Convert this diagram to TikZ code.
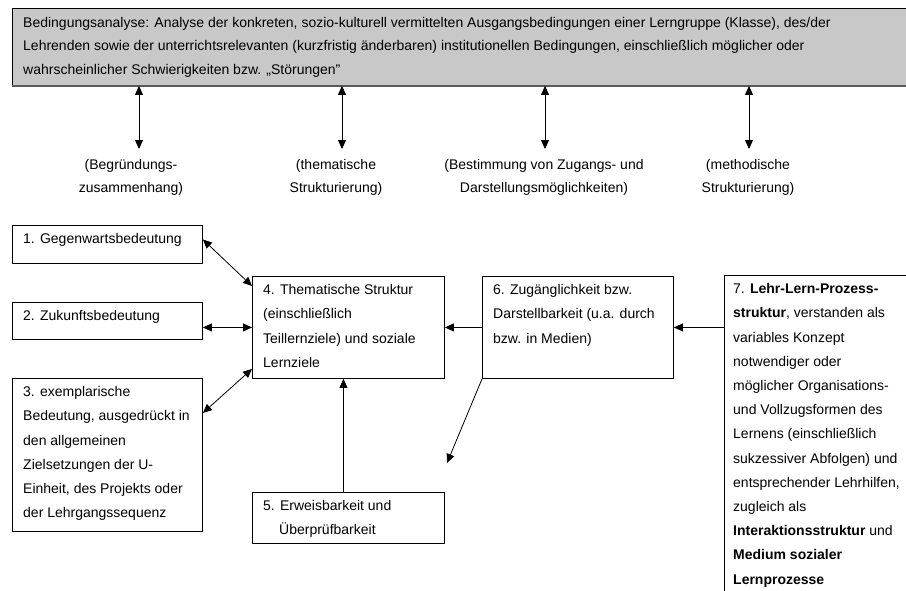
\documentclass[tikz,border=0pt]{standalone}
\usepackage{fontspec}
\setmainfont{Liberation Sans}
\usetikzlibrary{arrows.meta}
\definecolor{condfill}{RGB}{200,200,200}
\definecolor{condedge}{RGB}{90,90,90}
\newcommand\firstline{\rule{0pt}{11pt}}
\tikzset{
  x=1pt, y=-1pt,
  boxfont/.style={font=\fontsize{14pt}{24.2pt}\selectfont},
  plainbox/.style={draw=black, line width=0.9pt, anchor=north west, inner sep=0pt},
  boxtext/.style={boxfont, anchor=north west, inner sep=0pt, align=left},
  labeltext/.style={font=\fontsize{14pt}{23pt}\selectfont, anchor=north, inner sep=0pt, align=center},
  conn/.style={line width=0.8pt, -{Triangle[length=9pt,width=8pt]}},
  dconn/.style={line width=0.8pt, {Triangle[length=9pt,width=8pt]}-{Triangle[length=9pt,width=8pt]}}
}
\begin{document}
\begin{tikzpicture}
\clip (0,0) rectangle (906,590);
\fill[white] (0,0) rectangle (906,590);

% conditions analysis band along the top
\node[draw=black, fill=condfill, line width=0.9pt, anchor=north west, inner sep=0pt,
      minimum width=910pt, minimum height=77pt] (cond) at (12,8) {};
\draw[condedge, line width=1.2pt] (cond.south west) -- (cond.south east);
\node[boxtext, font=\fontsize{14pt}{23.2pt}\selectfont] (tcond) at (23,16.5)
  {\firstline Bedingungsanalyse: Analyse der konkreten, sozio-kulturell vermittelten Ausgangsbedingungen einer Lerngruppe (Klasse), des/der\\
   Lehrenden sowie der unterrichtsrelevanten (kurzfristig änderbaren) institutionellen Bedingungen, einschließlich möglicher oder\\
   wahrscheinlicher Schwierigkeiten bzw. „Störungen"};

% arrow ends and their labels
\coordinate (a1) at (139,149);
\coordinate (a2) at (342,149);
\coordinate (a3) at (545,149);
\coordinate (a4) at (749,149);
\draw[dconn] (cond.south -| a1) -- (a1);
\draw[dconn] (cond.south -| a2) -- (a2);
\draw[dconn] (cond.south -| a3) -- (a3);
\draw[dconn] (cond.south -| a4) -- (a4);
\node[labeltext] (l1) at (131,158.5) {\firstline(Begründungs-\\zusammenhang)};
\node[labeltext] (l2) at (336,158.5) {\firstline(thematische\\Strukturierung)};
\node[labeltext] (l3) at (544,158.5) {\firstline(Bestimmung von Zugangs- und\\Darstellungsmöglichkeiten)};
\node[labeltext] (l4) at (748,158.5) {\firstline(methodische\\Strukturierung)};

% boxes
\node[plainbox, minimum width=190pt, minimum height=38pt]  (b1) at (12,225) {};
\node[plainbox, minimum width=190pt, minimum height=37pt]  (b2) at (12,302) {};
\node[plainbox, minimum width=190pt, minimum height=153pt] (b3) at (12,378) {};
\node[plainbox, minimum width=192pt, minimum height=102pt] (b4) at (252,276) {};
\node[plainbox, minimum width=192pt, minimum height=51pt]  (b5) at (252,492) {};
\node[plainbox, minimum width=191pt, minimum height=102pt] (b6) at (482,276) {};
\node[plainbox, minimum width=300pt, minimum height=400pt] (b7) at (724,275) {};

% box texts
\node[boxtext] (t1) at (23,232.5) {\firstline 1. Gegenwartsbedeutung};
\node[boxtext] (t2) at (23,309.5) {\firstline 2. Zukunftsbedeutung};
\node[boxtext] (t3) at (23,385.5) {\firstline 3. exemplarische\\Bedeutung, ausgedrückt in\\den allgemeinen\\Zielsetzungen der U-\\Einheit, des Projekts oder\\der Lehrgangssequenz};
\node[boxtext] (t4) at (263,283.5) {\firstline 4. Thematische Struktur\\(einschließlich\\Teillernziele) und soziale\\Lernziele};
\node[boxtext] (t5) at (263,499.5) {\firstline 5. Erweisbarkeit und\\\hspace*{16pt}Überprüfbarkeit};
\node[boxtext] (t6) at (493,283.5) {\firstline 6. Zugänglichkeit bzw.\\Darstellbarkeit (u.a. durch\\bzw. in Medien)};
\node[boxtext] (t7) at (733,282.5) {\firstline 7. \textbf{Lehr-Lern-Prozess-}\\\textbf{struktur}, verstanden als\\variables Konzept\\notwendiger oder\\möglicher Organisations-\\und Vollzugsformen des\\Lernens (einschließlich\\sukzessiver Abfolgen) und\\entsprechender Lehrhilfen,\\zugleich als\\\textbf{Interaktionsstruktur} und\\\textbf{Medium sozialer}\\\textbf{Lernprozesse}};

% connectors
\coordinate (e6) at (447,463);
\draw[dconn] ([yshift=5pt]b1.east) -- ([yshift=-10pt]b4.north west);
\draw[dconn] (b4.west -| b2.east) -- (b4.west);
\draw[dconn] ([yshift=-35pt]b3.north east) -- ([yshift=10pt]b4.south west);
\draw[conn] (b6.west) -- (b4.east);
\draw[conn] (b6.east -| b7.west) -- (b6.east);
\draw[conn] ([xshift=-5pt]b5.north) -- ([xshift=-5pt]b4.south);
\draw[conn] (b6.south west) -- (e6);
\end{tikzpicture}
\end{document}
